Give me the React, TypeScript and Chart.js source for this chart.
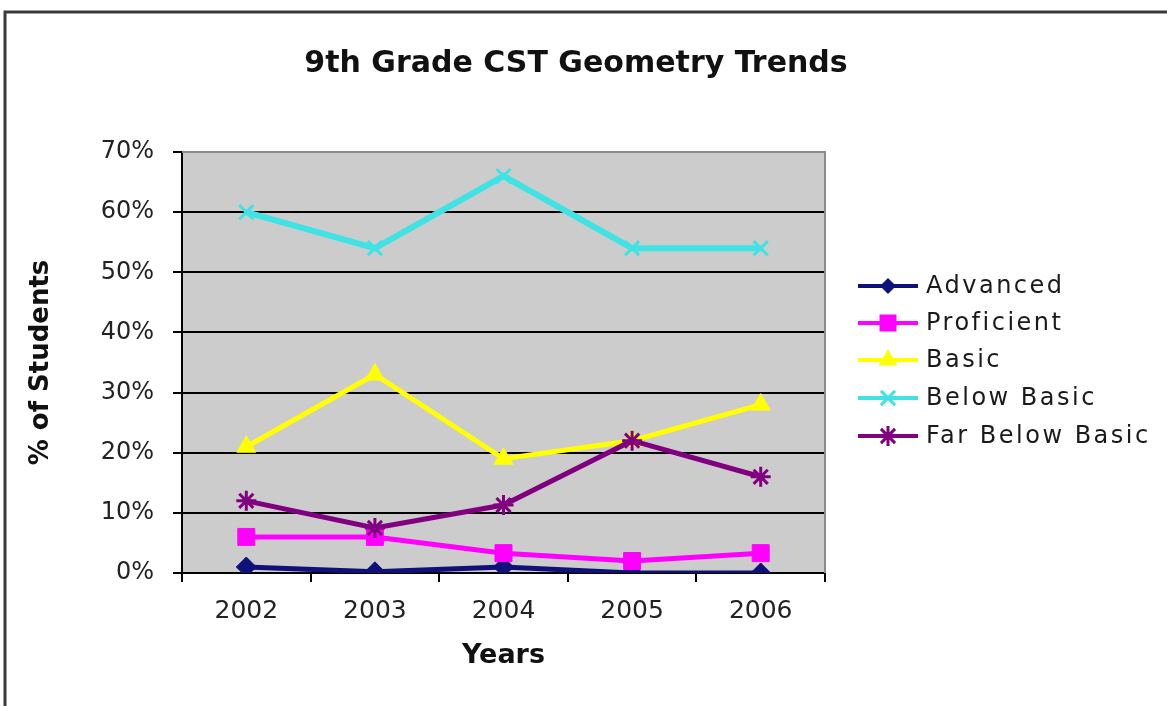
import React, { useEffect, useRef } from 'react';
import { Chart, registerables } from 'chart.js';

Chart.register(...registerables);

const chartTitle = '9th Grade CST Geometry Trends';
const xAxisTitle = 'Years';
const yAxisTitle = '% of Students';
const years = ['2002', '2003', '2004', '2005', '2006'];
const seriesNames = ['Advanced', 'Proficient', 'Basic', 'Below Basic', 'Far Below Basic'];
const advanced = [1, 0.2, 1, 0, 0];
const proficient = [6, 6, 3.3, 2, 3.3];
const basic = [21, 33, 19, 22, 28];
const belowBasic = [60, 54, 66, 54, 54];
const farBelowBasic = [12, 7.5, 11.3, 22, 16];
const yMax = 70;
const yStep = 10;

const seriesValues = [advanced, proficient, basic, belowBasic, farBelowBasic];
const seriesColors = ['#10107a', '#ff00ff', '#ffff00', '#3fe3e3', '#800080'];
const seriesPoints = ['rectRot', 'rect', 'triangle', 'crossRot', 'star'];
const seriesRadius = [10, 12, 11, 10, 10];

const FONT = '"DejaVu Sans", Verdana, sans-serif';
const LEGEND_Y = [286, 323, 360, 398, 436];

function drawLegendPoint(ctx: CanvasRenderingContext2D, style: string, r: number, x: number, y: number) {
  ctx.beginPath();
  if (style === 'rectRot') {
    const s = r * 0.8;
    ctx.moveTo(x, y - s); ctx.lineTo(x + s, y); ctx.lineTo(x, y + s); ctx.lineTo(x - s, y); ctx.closePath();
    ctx.fill();
  } else if (style === 'rect') {
    const s = r * Math.SQRT1_2;
    ctx.rect(x - s, y - s, 2 * s, 2 * s);
    ctx.fill();
  } else if (style === 'triangle') {
    ctx.moveTo(x, y - r); ctx.lineTo(x + r * 0.87, y + r * 0.5); ctx.lineTo(x - r * 0.87, y + r * 0.5); ctx.closePath();
    ctx.fill();
  } else if (style === 'crossRot') {
    const s = r * Math.SQRT1_2;
    ctx.moveTo(x - s, y - s); ctx.lineTo(x + s, y + s); ctx.moveTo(x + s, y - s); ctx.lineTo(x - s, y + s);
    ctx.stroke();
  } else if (style === 'star') {
    const s = r * Math.SQRT1_2;
    ctx.moveTo(x - s, y - s); ctx.lineTo(x + s, y + s); ctx.moveTo(x + s, y - s); ctx.lineTo(x - s, y + s);
    ctx.moveTo(x, y - r); ctx.lineTo(x, y + r); ctx.moveTo(x - r, y); ctx.lineTo(x + r, y);
    ctx.stroke();
  }
}

const decorPlugin = {
  id: 'decor',
  beforeDraw(chart: any) {
    const { ctx, chartArea: a } = chart;
    ctx.save();
    ctx.fillStyle = '#ffffff';
    ctx.fillRect(0, 0, chart.width, chart.height);
    ctx.fillStyle = '#cccccc';
    ctx.fillRect(a.left, a.top, a.right - a.left, a.bottom - a.top);
    ctx.strokeStyle = '#3a3a3a';
    ctx.lineWidth = 3;
    ctx.beginPath();
    ctx.moveTo(5, chart.height);
    ctx.lineTo(5, 12);
    ctx.lineTo(chart.width, 12);
    ctx.stroke();
    ctx.restore();
  },
  beforeDatasetsDraw(chart: any) {
    const { ctx, chartArea: a } = chart;
    ctx.save();
    ctx.strokeStyle = '#8a8a8a';
    ctx.lineWidth = 2;
    ctx.beginPath();
    ctx.moveTo(a.left, a.top);
    ctx.lineTo(a.right, a.top);
    ctx.lineTo(a.right, a.bottom);
    ctx.stroke();
    ctx.restore();
  },
  afterDraw(chart: any) {
    const { ctx } = chart;
    ctx.save();
    // Title
    ctx.fillStyle = '#111111';
    ctx.font = `bold 30px ${FONT}`;
    ctx.textAlign = 'center';
    ctx.textBaseline = 'middle';
    ctx.fillText(chartTitle, 576, 64);
    // Legend
    const lx0 = 858;
    const lx1 = 918;
    chart.data.datasets.forEach((ds: any, i: number) => {
      const y = LEGEND_Y[i];
      ctx.strokeStyle = ds.borderColor;
      ctx.lineWidth = 4;
      ctx.beginPath();
      ctx.moveTo(lx0, y);
      ctx.lineTo(lx1, y);
      ctx.stroke();
      ctx.fillStyle = ds.pointBackgroundColor;
      ctx.strokeStyle = ds.borderColor;
      ctx.lineWidth = ds.pointBorderWidth;
      drawLegendPoint(ctx, ds.pointStyle, ds.pointRadius, (lx0 + lx1) / 2, y);
      ctx.fillStyle = '#1a1a1a';
      ctx.font = `24px ${FONT}`;
      (ctx as any).letterSpacing = '2.5px';
      ctx.textAlign = 'left';
      ctx.textBaseline = 'middle';
      ctx.fillText(ds.label, 926, y + 1);
      (ctx as any).letterSpacing = '0px';
    });
    ctx.restore();
  },
};

export default function App() {
  const ref = useRef<HTMLCanvasElement>(null);
  useEffect(() => {
    document.body.style.margin = '0';
    const canvas = ref.current!;
    const chart = new Chart(canvas, {
      type: 'line',
      data: {
        labels: years,
        datasets: seriesNames.map((name, i) => ({
          label: name,
          data: seriesValues[i],
          borderColor: seriesColors[i],
          backgroundColor: seriesColors[i],
          pointBackgroundColor: seriesColors[i],
          pointBorderColor: seriesColors[i],
          pointStyle: seriesPoints[i] as any,
          pointRadius: seriesRadius[i],
          pointBorderWidth: i >= 3 ? 3 : 1,
          borderWidth: i === 3 ? 6 : 5,
          tension: 0,
          order: seriesNames.length - i,
        })),
      },
      plugins: [decorPlugin],
      options: {
        responsive: false,
        animation: false,
        devicePixelRatio: 1,
        layout: { padding: { left: 20, top: 152, right: 342, bottom: 0 } },
        plugins: {
          legend: { display: false },
          title: { display: false },
          tooltip: { enabled: false },
        },
        scales: {
          x: {
            offset: true,
            grid: {
              offset: true,
              drawOnChartArea: false,
              tickLength: 9,
              tickColor: '#000000',
              lineWidth: 2,
            },
            border: { color: '#000000', width: 2 },
            ticks: {
              color: '#222222',
              font: { family: FONT, size: 25 },
              padding: 14,
              maxRotation: 0,
            },
            title: {
              display: true,
              text: xAxisTitle,
              color: '#111111',
              font: { family: FONT, size: 27, weight: 'bold' },
              padding: { top: 0, bottom: 34 },
            },
            afterFit: (s: any) => { s.height = 706 - 573; },
          },
          y: {
            min: 0,
            max: yMax,
            ticks: {
              stepSize: yStep,
              color: '#222222',
              font: { family: FONT, size: 24 },
              padding: 19,
              callback: (v: any) => `${v}%`,
            },
            grid: {
              color: (c: any) => (c.tick && c.tick.value === yMax ? 'rgba(0,0,0,0)' : '#000000'),
              tickColor: '#000000',
              lineWidth: 2,
              tickLength: 9,
            },
            border: { color: '#000000', width: 2 },
            title: {
              display: true,
              text: yAxisTitle,
              color: '#111111',
              font: { family: FONT, size: 26, weight: 'bold' },
              padding: { top: 6, bottom: 0 },
            },
            afterFit: (s: any) => { s.width = 182 - 20; },
          },
        },
      },
    });
    return () => chart.destroy();
  }, []);
  return <canvas ref={ref} width={1167} height={706} style={{ display: 'block' }} />;
}
